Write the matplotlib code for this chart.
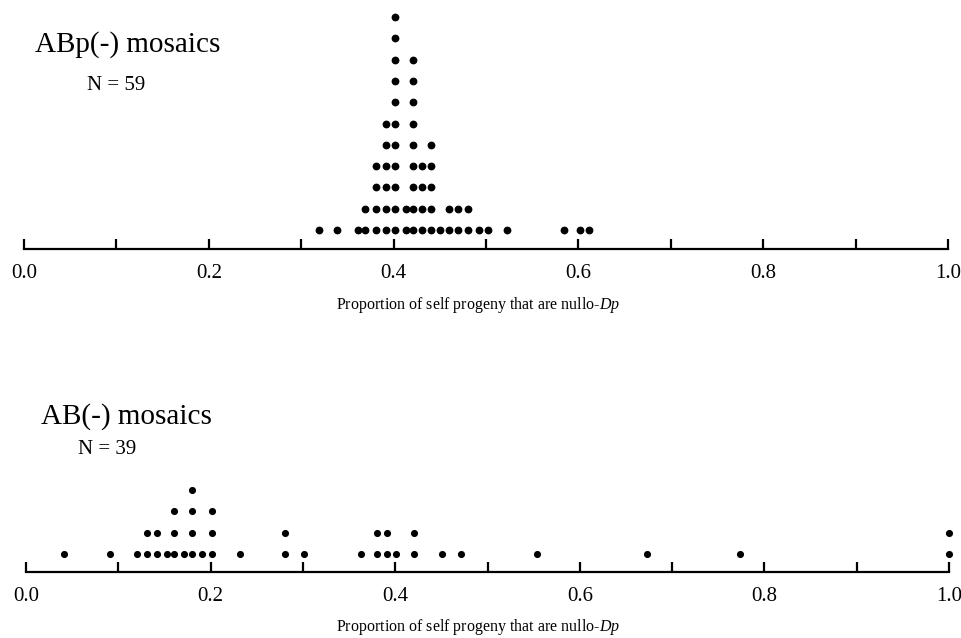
import numpy as np
import matplotlib
matplotlib.use("Agg")
import matplotlib.pyplot as plt

plt.rcParams['font.family'] = ['Liberation Serif', 'DejaVu Serif']
plt.rcParams['mathtext.fontset'] = 'custom'
plt.rcParams['mathtext.rm'] = 'Liberation Serif'
plt.rcParams['mathtext.it'] = 'Liberation Serif:italic'

# ABp(-) mosaics: proportion values and how many embryos share each value
abp_props = [0.319, 0.339, 0.361, 0.369, 0.381, 0.392, 0.402, 0.413, 0.421, 0.431,
             0.441, 0.450, 0.460, 0.470, 0.480, 0.492, 0.502, 0.523, 0.584, 0.602, 0.611]
abp_counts = [1, 1, 1, 2, 4, 6, 11, 2, 9, 4, 5, 1, 2, 2, 2, 1, 1, 1, 1, 1, 1]

# AB(-) mosaics
ab_props = [0.041, 0.091, 0.120, 0.131, 0.142, 0.153, 0.160, 0.171, 0.180, 0.191,
            0.202, 0.232, 0.281, 0.301, 0.363, 0.380, 0.391, 0.401, 0.420, 0.451,
            0.471, 0.554, 0.673, 0.774, 1.0]
ab_counts = [1, 1, 1, 2, 2, 1, 3, 1, 4, 1, 3, 1, 2, 1, 1, 2, 2, 1, 2, 1, 1, 1, 1, 1, 2]

tick_vals = np.arange(0, 1.01, 0.1)
tick_labels = ['0.0', '', '0.2', '', '0.4', '', '0.6', '', '0.8', '', '1.0']
xlabel = 'Proportion of self progeny that are nullo-$\\mathit{Dp}$'

W, H = 961, 638
fig = plt.figure(figsize=(W / 100, H / 100), dpi=100)


def px_axes(left, right, top, bottom):
    return fig.add_axes([left / W, 1 - bottom / H, (right - left) / W, (bottom - top) / H])


def dot_stack(ax, props, counts, height_px, gap, step, ms):
    xs, ys = [], []
    for p, c in zip(props, counts):
        for k in range(c):
            xs.append(p)
            ys.append(gap + k * step)
    ax.plot(xs, ys, 'o', color='black', ms=ms, clip_on=False)
    ax.set_xlim(0, 1)
    ax.set_ylim(0, height_px)
    ax.set_yticks([])
    for s in ['top', 'left', 'right']:
        ax.spines[s].set_visible(False)
    ax.spines['bottom'].set_linewidth(1.6)
    ax.set_xticks(tick_vals)
    ax.set_xticklabels(tick_labels, fontsize=15)
    ax.tick_params(axis='x', direction='in', length=7, width=1.6, pad=11)


ax1 = px_axes(24, 948, 5, 249)
dot_stack(ax1, abp_props, abp_counts, 244, 19, 21.3, 4.6)

ax2 = px_axes(26, 949, 470, 572)
dot_stack(ax2, ab_props, ab_counts, 102, 18, 21.3, 4.1)

fig.text(35 / W, 1 - 45 / H, 'ABp(-) mosaics', fontsize=21, va='center', ha='left')
fig.text(87 / W, 1 - 86 / H, 'N = 59', fontsize=15, va='center', ha='left')
fig.text(41 / W, 1 - 417 / H, 'AB(-) mosaics', fontsize=21, va='center', ha='left')
fig.text(78 / W, 1 - 449 / H, 'N = 39', fontsize=15, va='center', ha='left')

fig.text(478 / W, 1 - 305 / H, xlabel, fontsize=11.5, ha='center', va='center')
fig.text(478 / W, 1 - 627 / H, xlabel, fontsize=11.5, ha='center', va='center')

fig.savefig('out.png', dpi=100)
